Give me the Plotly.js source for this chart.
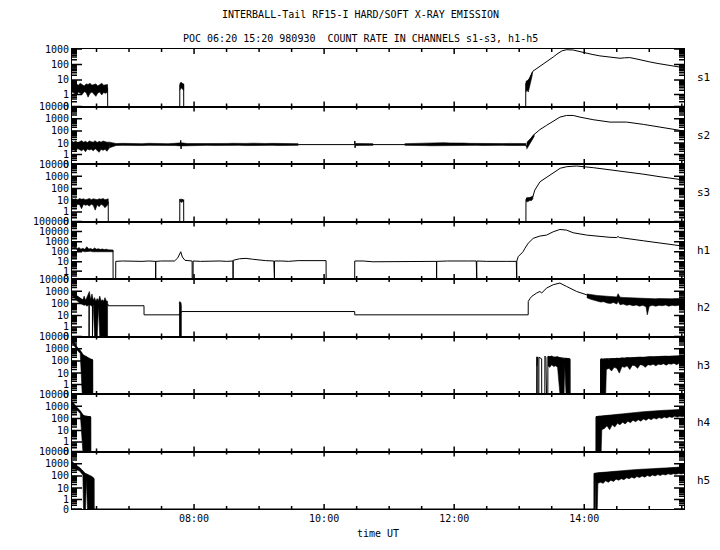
<!DOCTYPE html>
<html><head><meta charset="utf-8">
<script src="https://cdn.plot.ly/plotly-3.0.1.min.js"></script>
<style>html,body{margin:0;padding:0;background:#fff}#chart{width:720px;height:550px}</style>
</head><body><div id="chart"></div>
<script>
const titleLine1 = 'INTERBALL-Tail RF15-I HARD/SOFT X-RAY EMISSION';
const titleLine2 = 'POC 06:20 15:20 980930\u00a0 COUNT RATE IN CHANNELS s1-s3, h1-h5';
const xTitle = 'time UT';
const timeRange = [6.123, 15.534];
const timeTicks = [8, 10, 12, 14];
const timeLabels = ['08:00', '10:00', '12:00', '14:00'];
const timeMinorStep = 0.5;
const channels = ['s1', 's2', 's3', 'h1', 'h2', 'h3', 'h4', 'h5'];
const axisTops = [1000, 10000, 10000, 100000, 10000, 10000, 10000, 10000];
const countTicks = [0, 1, 10, 100, 1000, 10000, 100000];
const countLabels = ['0', '1', '10', '100', '1000', '10000', '100000'];
const OFFSET = 0.2; // zero counts sit on the axis floor

// main lines: [hour UT, count rate]
const s1_line = [[6.123,3],[6.67,3],[6.672,0],[7.78,0],[7.781,5],[7.84,5],[7.841,0],[13.10,0],[13.101,6],[13.16,12],[13.21,37],[13.27,55],[13.32,79],[13.40,130],[13.47,196],[13.53,320],[13.58,470],[13.62,620],[13.66,770],[13.73,900],[13.78,900],[13.83,860],[13.92,700],[14.01,545],[14.12,450],[14.24,360],[14.40,300],[14.55,254],[14.62,270],[14.70,280],[14.78,240],[14.86,196],[15.00,150],[15.12,119],[15.25,95],[15.37,79],[15.45,70],[15.534,62]];
const s2_line = [[6.123,6],[6.70,7.5],[7.79,7.5],[7.795,17],[7.80,3.2],[7.805,7.5],[9.60,7.5],[10.47,7.5],[10.472,15],[10.476,4],[10.48,7.5],[10.75,7.5],[11.24,7.5],[13.10,7.5],[13.114,4.5],[13.138,12],[13.215,44],[13.318,129],[13.42,287],[13.523,641],[13.626,1352],[13.729,1860],[13.83,1860],[13.934,1350],[14.138,832],[14.395,532],[14.652,532],[14.908,347],[15.165,209],[15.472,113],[15.534,99]];
const s3_line = [[6.123,8],[6.68,8],[6.681,0],[7.78,0],[7.781,13],[7.79,8],[7.80,14],[7.81,7],[7.82,13],[7.83,8],[7.84,12],[7.841,0],[13.103,0],[13.104,13],[13.21,21],[13.24,74],[13.32,355],[13.42,813],[13.52,1740],[13.63,4470],[13.73,6030],[13.88,6880],[14.14,5000],[14.40,3400],[14.65,2350],[14.90,1500],[15.165,910],[15.534,490]];
const h1_line = [[6.123,300],[6.14,600],[6.17,250],[6.20,170],[6.754,140],[6.755,0],[6.795,0],[6.796,11],[6.90,12],[7.00,11],[7.10,12],[7.20,11],[7.30,12],[7.409,11],[7.41,0],[7.411,11],[7.50,12],[7.60,11],[7.70,12],[7.75,25],[7.795,100],[7.82,30],[7.86,14],[7.97,12],[7.971,0],[7.985,0],[7.986,12],[8.10,11],[8.20,12],[8.30,11],[8.40,12],[8.50,11],[8.599,12],[8.60,0],[8.601,14],[8.70,20],[8.80,22],[8.90,18],[9.00,15],[9.10,13],[9.227,12],[9.228,0],[9.236,0],[9.237,12],[9.35,12],[9.45,11],[9.60,13],[10.03,13],[10.031,0],[10.47,0],[10.471,12],[10.60,12],[10.75,10],[11.24,10],[11.40,11],[11.55,11],[11.729,11],[11.73,0],[11.731,11],[11.90,12],[12.05,11],[12.20,12],[12.339,12],[12.34,0],[12.347,0],[12.348,12],[12.50,11],[12.65,12],[12.80,11],[12.955,11],[12.956,0],[12.962,0],[12.963,12],[12.985,33],[13.037,73],[13.06,103],[13.088,222],[13.138,700],[13.215,2140],[13.318,3600],[13.42,4500],[13.523,9600],[13.626,16200],[13.729,14000],[13.83,7650],[14.037,4500],[14.395,2700],[14.50,2600],[14.52,3300],[14.54,2600],[14.908,1230],[15.165,690],[15.472,400],[15.534,380]];
const h2_line = [[6.123,900],[6.20,370],[6.27,200],[6.385,100],[6.386,0],[6.388,100],[6.437,100],[6.438,0],[6.44,100],[6.68,80],[6.681,65],[7.23,65],[7.231,11.6],[7.77,11.6],[7.81,21.7],[10.47,21.7],[10.471,11.6],[13.138,11.6],[13.139,145],[13.165,250],[13.19,370],[13.268,710],[13.318,955],[13.345,710],[13.42,1810],[13.523,3400],[13.626,4650],[13.729,2450],[13.883,955],[14.037,510],[14.138,370],[14.395,250],[14.652,170],[14.96,120],[15.472,140],[15.534,140]];
const h3_line = [[6.123,5400],[6.15,3000],[6.20,1120],[6.25,590],[6.29,300],[6.34,230],[6.39,141],[6.44,120],[6.441,0],[13.268,0],[13.269,205],[13.285,180],[13.286,0],[13.302,0],[13.303,200],[13.345,150],[13.346,0],[13.394,0],[13.395,250],[13.41,200],[13.42,0],[13.44,0],[13.441,230],[13.78,150],[13.781,0],[14.25,0],[14.251,140],[15.534,260]];
const h4_line = [[6.123,1740],[6.20,680],[6.25,360],[6.30,160],[6.41,140],[6.411,0],[14.18,0],[14.181,140],[15.534,500]];
const h5_line = [[6.123,1050],[6.24,410],[6.32,160],[6.46,60],[6.461,0],[14.15,0],[14.151,160],[15.534,500]];

// noisy stretches: [hour UT, lowest count, highest count]
const s1_noise1 = [[6.123,1.5,6],[6.16,1.2,5],[6.19,0.8,5.5],[6.22,1.5,4.5],[6.25,1.3,6],[6.28,1.0,5],[6.31,1.6,4],[6.34,1.4,5.5],[6.37,0.6,5],[6.40,1.2,6],[6.43,1.5,4.5],[6.46,1.1,5],[6.49,0.7,5.5],[6.52,1.3,4],[6.55,1.5,5],[6.58,0.9,6],[6.61,1.4,4.5],[6.64,1.2,5],[6.67,1.5,5]];
const s1_noise2 = [[7.781,2,6],[7.80,3,7],[7.82,2.5,6],[7.84,2,5.5]];
const s1_noise3 = [[13.101,1.5,8],[13.12,2,9],[13.14,1.5,10],[13.16,4,14],[13.18,8,22],[13.20,20,32]];
const s2_noise1 = [[6.123,2.5,14],[6.15,3,12],[6.18,2,15],[6.21,3.5,11],[6.24,2.8,13],[6.27,2.2,16],[6.30,3,12],[6.33,1.8,14],[6.36,3.2,11],[6.39,2.6,15],[6.42,3,13],[6.45,2.2,12],[6.48,3.4,16],[6.51,2.5,11],[6.54,1.6,14],[6.57,3,12],[6.60,2.4,15],[6.63,3,13],[6.66,2,12],[6.70,4,12]];
const s2_noise2 = [[6.70,4,12],[6.80,6.3,9.2],[6.90,6.5,9.5],[7.00,6.3,9],[7.10,6.6,9.3],[7.20,6.2,9],[7.30,6.5,9.6],[7.40,6.4,9],[7.50,6.2,9.3],[7.60,6.5,9],[7.70,6.3,9.5],[7.80,5.8,10.5],[7.90,6.4,9.2],[8.00,6.5,9],[8.10,6.2,9.3],[8.20,6.5,9],[8.30,6.4,9.4],[8.40,6.2,9],[8.50,6.5,9.3],[8.60,6.3,9.6],[8.70,6.5,9],[8.80,6.2,9.4],[8.90,6.4,9.8],[9.00,6.5,9],[9.10,6.2,9.3],[9.20,6.5,9.5],[9.30,6.3,9.2],[9.40,6.5,9],[9.50,6.2,9.3],[9.60,6.5,9]];
const s2_noise3 = [[10.48,6.4,9.3],[10.55,6.2,9],[10.62,6.5,9.6],[10.69,6.3,9.2],[10.75,6.5,9]];
const s2_noise4 = [[11.24,6.5,9],[11.34,6.3,9.4],[11.44,6.5,9.1],[11.54,6.2,9.6],[11.64,6.0,10.5],[11.74,6.2,10],[11.84,5.8,10.8],[11.94,6.1,10.2],[12.04,5.9,10.6],[12.14,6.2,10],[12.24,6.3,9.5],[12.34,6.5,9.2],[12.44,6.3,9.4],[12.54,6.5,9],[12.64,6.2,9.3],[12.74,6.5,9.1],[12.84,6.3,9.4],[12.94,6.4,9],[13.04,6.2,9.5],[13.10,6.4,9.2]];
const s2_noise5 = [[13.114,3,9],[13.13,4.5,14],[13.15,7,17],[13.17,9,21],[13.19,14,28],[13.21,22,40],[13.23,35,50]];
const s3_noise1 = [[6.123,5,15],[6.15,4,13],[6.18,3,14],[6.21,5,12],[6.24,4.5,15],[6.27,2,13],[6.30,5,14],[6.33,4,12],[6.36,4.5,13],[6.39,3.5,15],[6.42,5,12],[6.45,4,14],[6.48,1.5,13],[6.51,4.5,12],[6.54,3,14],[6.57,5,13],[6.60,4,15],[6.63,2.5,12],[6.66,4,13],[6.68,5,14]];
const s3_noise2 = [[13.104,9,16],[13.13,8,18],[13.16,10,17],[13.19,10,20],[13.21,14,24]];
const h1_noise1 = [[6.20,110,200],[6.23,120,260],[6.26,105,180],[6.29,115,220],[6.32,100,170],[6.35,110,320],[6.38,105,190],[6.41,115,210],[6.44,100,170],[6.47,110,240],[6.50,100,180],[6.53,105,200],[6.56,95,170],[6.59,105,190],[6.62,100,160],[6.65,105,180],[6.68,95,150],[6.71,100,150],[6.754,100,140]];
const h2_noise1 = [[6.123,500,1000],[6.15,350,800],[6.17,250,600],[6.19,200,450],[6.21,150,380],[6.23,120,320],[6.25,100,260],[6.27,90,220],[6.29,80,200],[6.31,70,400],[6.33,80,180],[6.35,60,300],[6.37,70,500],[6.39,80,950],[6.41,70,200],[6.43,60,600],[6.45,70,180],[6.47,0,300],[6.49,0,150],[6.51,0,250],[6.53,60,170],[6.55,0,400],[6.57,0,160],[6.59,0,200],[6.61,0,150],[6.63,0,300],[6.65,0,160],[6.67,0,150]];
const h2_noise2 = [[7.77,0,100],[7.78,0,145],[7.79,0,130],[7.80,0,110],[7.805,0,60]];
const h2_noise3 = [[14.04,300,600],[14.10,220,520],[14.15,180,480],[14.20,150,450],[14.25,130,430],[14.30,140,400],[14.35,110,380],[14.40,100,370],[14.45,120,350],[14.50,90,340],[14.52,150,620],[14.55,80,330],[14.60,90,310],[14.65,70,300],[14.70,80,290],[14.75,65,280],[14.80,75,270],[14.85,60,260],[14.90,70,250],[14.95,55,250],[14.97,11.6,240],[15.00,60,240],[15.05,70,250],[15.10,60,240],[15.15,70,250],[15.20,65,240],[15.25,75,250],[15.30,60,250],[15.35,70,240],[15.40,65,250],[15.45,70,240],[15.50,65,250],[15.534,70,250]];
const h3_noise1 = [[6.123,3500,6500],[6.15,2000,4000],[6.20,800,1400],[6.25,400,750],[6.28,0,400],[6.30,0,300],[6.32,0,260],[6.34,0,230],[6.36,0,200],[6.38,0,160],[6.40,0,150],[6.42,0,140],[6.44,0,130]];
const h3_noise2 = [[13.269,50,205],[13.277,40,220],[13.285,60,180]];
const h3_noise3 = [[13.441,40,250],[13.47,30,220],[13.50,50,260],[13.53,35,200],[13.56,40,210],[13.59,30,230],[13.626,0,180],[13.65,0,170],[13.69,0,160],[13.70,40,150],[13.72,0,170],[13.75,0,150],[13.78,0,140]];
const h3_noise4 = [[14.251,0,140],[14.27,0,150],[14.29,0,130],[14.31,0,150],[14.33,0,140],[14.34,20,150],[14.38,25,140],[14.42,15,160],[14.46,30,150],[14.50,25,170],[14.54,10,160],[14.58,35,180],[14.62,30,170],[14.66,40,190],[14.70,20,180],[14.74,45,190],[14.78,40,200],[14.82,25,190],[14.86,50,210],[14.90,45,200],[14.94,30,220],[14.98,50,210],[15.02,45,230],[15.06,55,220],[15.10,40,230],[15.14,55,240],[15.18,50,230],[15.22,60,240],[15.26,45,250],[15.30,60,240],[15.34,55,250],[15.38,65,250],[15.42,50,260],[15.46,65,250],[15.50,60,260],[15.534,65,270]];
const h4_noise1 = [[6.123,1200,2500],[6.16,700,1300],[6.20,450,800],[6.25,250,420],[6.29,0,200],[6.32,0,160],[6.35,0,150],[6.38,0,140],[6.41,0,130]];
const h4_noise2 = [[14.181,0,140],[14.20,0,150],[14.22,0,140],[14.24,0,160],[14.26,0,150],[14.27,12,160],[14.31,15,170],[14.35,25,180],[14.39,12,190],[14.43,30,200],[14.47,20,210],[14.51,40,220],[14.55,30,240],[14.59,50,250],[14.63,35,260],[14.67,60,280],[14.71,45,290],[14.75,70,300],[14.79,55,320],[14.83,80,330],[14.87,60,340],[14.91,90,360],[14.95,70,370],[14.99,100,390],[15.03,80,400],[15.07,110,420],[15.11,90,430],[15.15,120,440],[15.19,100,460],[15.23,130,470],[15.27,110,480],[15.31,140,490],[15.35,120,500],[15.39,150,510],[15.43,130,520],[15.47,150,540],[15.51,140,550],[15.534,150,560]];
const h5_noise1 = [[6.123,600,1600],[6.18,350,800],[6.24,250,500],[6.29,120,250],[6.30,0,200],[6.33,0,160],[6.345,60,150],[6.36,0,140],[6.40,0,110],[6.43,0,90],[6.46,0,65]];
const h5_noise2 = [[14.151,0,160],[14.165,0,170],[14.166,80,170],[14.175,0,160],[14.19,0,170],[14.20,0,180],[14.21,25,180],[14.25,30,190],[14.29,25,200],[14.33,40,210],[14.37,30,220],[14.41,45,230],[14.45,35,240],[14.49,55,250],[14.53,45,260],[14.57,60,270],[14.61,50,290],[14.65,70,300],[14.69,60,310],[14.73,80,320],[14.77,65,330],[14.81,90,340],[14.85,75,350],[14.89,100,360],[14.93,80,370],[14.97,110,380],[15.01,90,390],[15.05,120,400],[15.09,100,410],[15.13,130,420],[15.17,110,430],[15.21,140,440],[15.25,120,450],[15.29,150,460],[15.33,130,470],[15.37,150,480],[15.41,140,490],[15.45,160,500],[15.49,145,520],[15.534,160,550]];

const panelLines = [s1_line, s2_line, s3_line, h1_line, h2_line, h3_line, h4_line, h5_line];
const panelNoise = [
  [s1_noise1, s1_noise2, s1_noise3],
  [s2_noise1, s2_noise2, s2_noise3, s2_noise4, s2_noise5],
  [s3_noise1, s3_noise2],
  [h1_noise1],
  [h2_noise1, h2_noise2, h2_noise3],
  [h3_noise1, h3_noise2, h3_noise3, h3_noise4],
  [h4_noise1, h4_noise2],
  [h5_noise1, h5_noise2]
];

const FONT = 'DejaVu Sans Mono';
const W = 720, H = 550, M = {l: 72, r: 36, t: 49, b: 41};
const plotW = W - M.l - M.r, panelH = (H - M.t - M.b) / panelLines.length;
const traces = [];
const layout = {
  width: W, height: H, margin: M,
  paper_bgcolor: '#fff', plot_bgcolor: '#fff',
  showlegend: false,
  font: {family: FONT, size: 10, color: '#000'},
  annotations: [
    {xref: 'paper', yref: 'paper', x: (360 - M.l) / plotW, y: 1 + (M.t - 15) / (H - M.t - M.b), xanchor: 'center', yanchor: 'middle', text: titleLine1, showarrow: false},
    {xref: 'paper', yref: 'paper', x: (360 - M.l) / plotW, y: 1 + (M.t - 39) / (H - M.t - M.b), xanchor: 'center', yanchor: 'middle', text: titleLine2, showarrow: false},
    {xref: 'paper', yref: 'paper', x: 0.5, y: -24 / (H - M.t - M.b), xanchor: 'center', yanchor: 'middle', text: xTitle, showarrow: false}
  ]
};

const timeMinor = [];
for (let t = Math.ceil(timeRange[0] / timeMinorStep) * timeMinorStep; t <= timeRange[1]; t += timeMinorStep) {
  if (!timeTicks.includes(t)) timeMinor.push(t);
}
const hoursPerPx = (timeRange[1] - timeRange[0]) / plotW;

panelLines.forEach((line, i) => {
  const k = i + 1;
  const sfx = k === 1 ? '' : String(k);
  const xa = 'x' + sfx, ya = 'y' + sfx;
  const top = axisTops[i];
  const yRange = [Math.log10(OFFSET), Math.log10(top + OFFSET)];
  const decadesPerPx = (yRange[1] - yRange[0]) / panelH;

  panelNoise[i].forEach(b => {
    const t = b.map(r => r[0]);
    const lo = b.map(r => r[1] + OFFSET);
    const hi = b.map(r => r[2] + OFFSET);
    traces.push({
      type: 'scatter', mode: 'lines',
      x: t.concat(t.slice().reverse()), y: hi.concat(lo.slice().reverse()),
      fill: 'toself', fillcolor: '#000', line: {color: '#000', width: 0.6},
      xaxis: xa, yaxis: ya, hoverinfo: 'skip'
    });
  });
  traces.push({
    type: 'scatter', mode: 'lines',
    x: line.map(r => r[0]), y: line.map(r => r[1] + OFFSET),
    line: {color: '#000', width: 1}, xaxis: xa, yaxis: ya, hoverinfo: 'skip'
  });

  // tick marks inside the frame on all four sides
  const majors = countTicks.filter(v => v <= top);
  const minors = [0.2, 0.4, 0.6, 0.8];
  for (let d = 1; d < top; d *= 10) for (let m = 2; m <= 9; m++) minors.push(m * d);
  const tx = [], ty = [];
  const yTick = (v, len) => {
    const y = v + OFFSET, dx = len * hoursPerPx;
    tx.push(timeRange[0], timeRange[0] + dx, null, timeRange[1] - dx, timeRange[1], null);
    ty.push(y, y, null, y, y, null);
  };
  const xTick = (t, len) => {
    const f = len * decadesPerPx;
    tx.push(t, t, null, t, t, null);
    ty.push(Math.pow(10, yRange[0]), Math.pow(10, yRange[0] + f), null, Math.pow(10, yRange[1] - f), Math.pow(10, yRange[1]), null);
  };
  majors.forEach(v => yTick(v, 10));
  minors.forEach(v => yTick(v, 5));
  timeTicks.forEach(t => xTick(t, 5));
  timeMinor.forEach(t => xTick(t, 3));
  traces.push({type: 'scatter', mode: 'lines', x: tx, y: ty, connectgaps: false, line: {color: '#000', width: 1.5}, xaxis: xa, yaxis: ya, hoverinfo: 'skip'});

  layout['xaxis' + sfx] = {
    domain: [0, 1], anchor: ya, type: 'linear', range: timeRange,
    tickmode: 'array', tickvals: timeTicks, ticktext: timeLabels,
    showticklabels: k === panelLines.length, ticks: '',
    showline: true, mirror: true, linecolor: '#000', linewidth: 1, showgrid: false, zeroline: false,
    tickfont: {family: FONT, size: 10, color: '#000'}
  };
  layout['yaxis' + sfx] = {
    domain: [1 - (i + 1) / panelLines.length, 1 - i / panelLines.length], anchor: xa, type: 'log', range: yRange,
    tickmode: 'array', tickvals: majors.map(v => v + OFFSET), ticktext: countLabels.slice(0, majors.length),
    ticks: '', showline: true, mirror: true, linecolor: '#000', linewidth: 1, showgrid: false, zeroline: false,
    tickfont: {family: FONT, size: 10, color: '#000'}
  };
  layout.annotations.push({
    xref: 'paper', yref: ya + ' domain', x: 1, y: 0.5, xanchor: 'left', yanchor: 'middle', xshift: 11,
    text: channels[i], showarrow: false, font: {family: FONT, size: 11, color: '#000'}
  });
});

Plotly.newPlot('chart', traces, layout, {staticPlot: true, displayModeBar: false});
</script>
</body></html>
